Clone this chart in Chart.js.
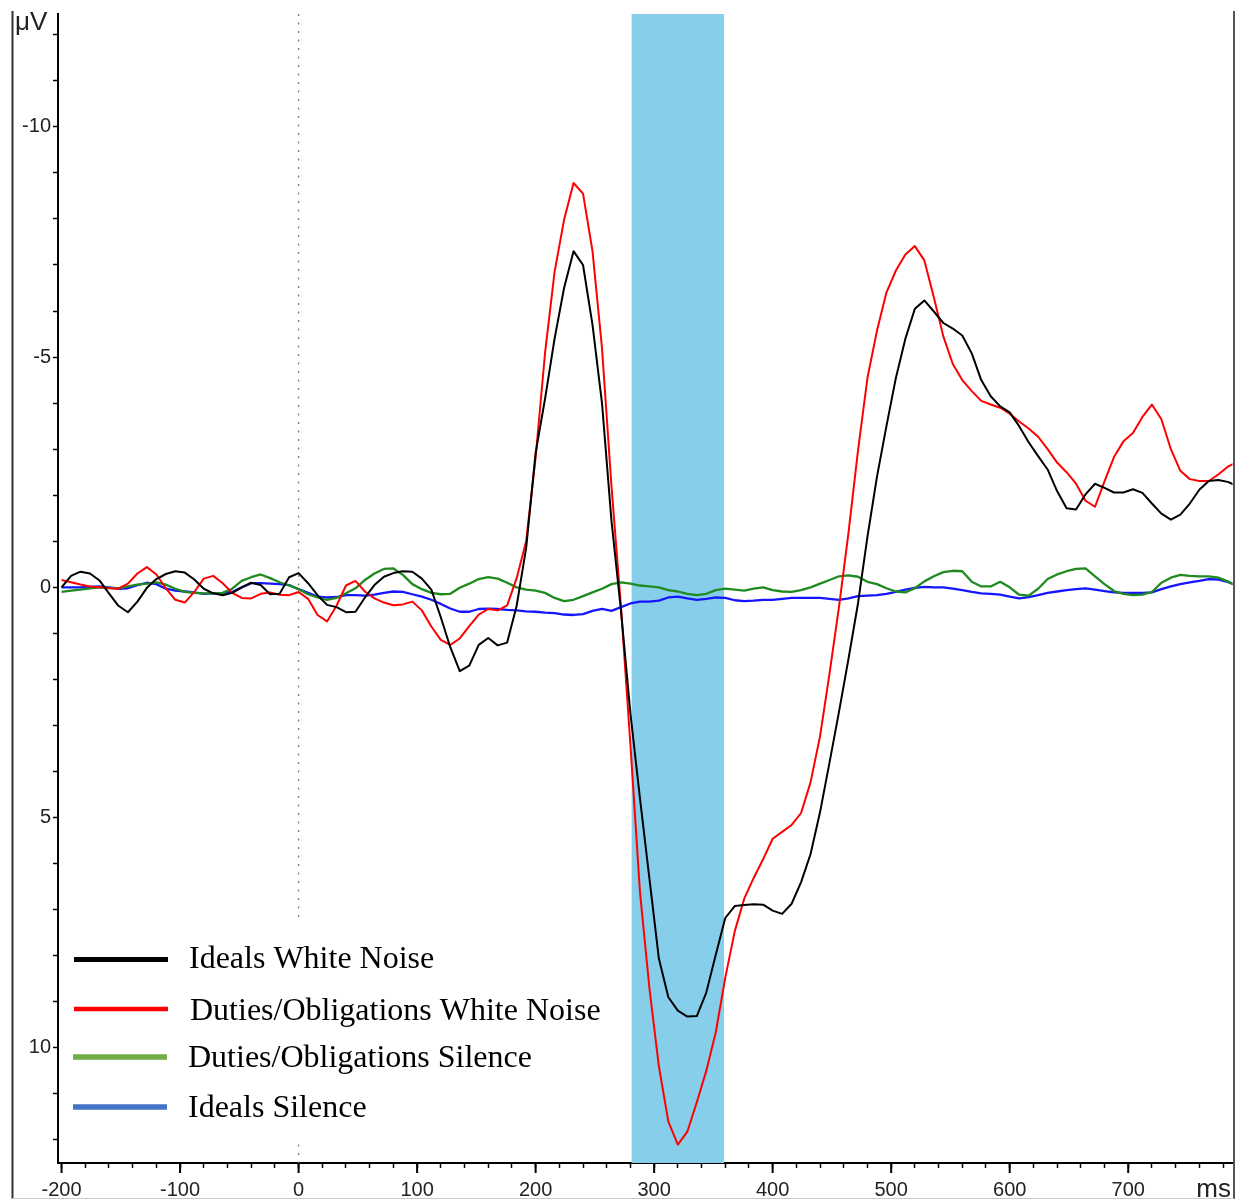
<!DOCTYPE html>
<html>
<head>
<meta charset="utf-8">
<title>ERP waveforms</title>
<script src="https://cdn.jsdelivr.net/npm/chart.js@4.4.1/dist/chart.umd.min.js"></script>
<style>
  html, body { margin: 0; padding: 0; background: #fff; }
  canvas { display: block; }
</style>
</head>
<body>
<canvas id="erp" width="1237" height="1200"></canvas>
<script>
// Sample times (ms) of the averaged epochs, one sample every 8 ms
const SAMPLE_START = -200, SAMPLE_STEP = 8, SAMPLE_COUNT = 125;
const timesMs = Array.from({ length: SAMPLE_COUNT }, (_, i) => SAMPLE_START + i * SAMPLE_STEP);

// Grand-average amplitudes in µV (negative plotted upward)
const idealsWhiteNoise = [
  0.0, -0.25, -0.34, -0.3, -0.15, 0.13, 0.4, 0.54, 0.31, 0.01,
  -0.18, -0.29, -0.35, -0.32, -0.17, 0.03, 0.13, 0.17, 0.12, 0.0,
  -0.1, -0.05, 0.15, 0.14, -0.22, -0.31, -0.09, 0.17, 0.38, 0.43,
  0.54, 0.53, 0.22, -0.05, -0.23, -0.31, -0.35, -0.34, -0.19, 0.05,
  0.65, 1.3, 1.82, 1.7, 1.25, 1.1, 1.26, 1.2, 0.4, -0.85,
  -2.92, -4.1, -5.4, -6.5, -7.3, -7.0, -5.7, -4.0, -1.45, 0.5,
  2.74, 4.57, 6.32, 8.06, 8.9, 9.19, 9.32, 9.31, 8.8, 7.98,
  7.18, 6.92, 6.9, 6.88, 6.89, 7.02, 7.09, 6.87, 6.4, 5.79,
  4.88, 3.8, 2.7, 1.55, 0.35, -1.1, -2.4, -3.5, -4.55, -5.4,
  -6.05, -6.23, -5.99, -5.74, -5.62, -5.47, -5.08, -4.5, -4.15, -3.93,
  -3.8, -3.5, -3.15, -2.85, -2.56, -2.09, -1.72, -1.69, -2.02, -2.25,
  -2.16, -2.06, -2.06, -2.13, -2.05, -1.82, -1.6, -1.47, -1.58, -1.82,
  -2.12, -2.31, -2.33, -2.29, -2.2
];
const dutiesWhiteNoise = [
  -0.16, -0.11, -0.06, -0.02, 0.0, 0.02, 0.03, -0.08, -0.3, -0.44,
  -0.28, 0.02, 0.27, 0.33, 0.1, -0.19, -0.25, -0.09, 0.12, 0.23,
  0.24, 0.14, 0.11, 0.16, 0.17, 0.1, 0.25, 0.6, 0.74, 0.4,
  -0.04, -0.14, 0.09, 0.24, 0.33, 0.39, 0.37, 0.31, 0.5, 0.85,
  1.14, 1.25, 1.11, 0.84, 0.59, 0.47, 0.5, 0.39, -0.2, -1.0,
  -2.82, -5.1, -6.85, -7.98, -8.78, -8.55, -7.3, -5.2, -2.2, 0.42,
  3.42, 6.6, 8.7, 10.4, 11.6, 12.1, 11.82, 11.18, 10.5, 9.66,
  8.48, 7.47, 6.76, 6.31, 5.9, 5.46, 5.31, 5.16, 4.9, 4.23,
  3.23, 1.87, 0.42, -1.19, -2.97, -4.55, -5.57, -6.4, -6.88, -7.23,
  -7.41, -7.1, -6.3, -5.45, -4.85, -4.5, -4.26, -4.05, -3.97, -3.9,
  -3.77, -3.6, -3.45, -3.27, -3.0, -2.71, -2.5, -2.25, -1.88, -1.75,
  -2.3, -2.83, -3.17, -3.35, -3.7, -3.97, -3.65, -3.0, -2.53, -2.35,
  -2.31, -2.31, -2.45, -2.62, -2.72
];
const dutiesSilence = [
  0.1, 0.07, 0.05, 0.02, 0.0, 0.01, 0.02, -0.02, -0.06, -0.08,
  -0.11, -0.06, 0.03, 0.1, 0.12, 0.13, 0.13, 0.12, 0.03, -0.14,
  -0.22, -0.28, -0.2, -0.11, -0.04, 0.04, 0.15, 0.22, 0.27, 0.23,
  0.13, 0.02, -0.16, -0.3, -0.4, -0.41, -0.27, -0.07, 0.04, 0.12,
  0.15, 0.14, 0.01, -0.08, -0.18, -0.22, -0.19, -0.1, 0.0, 0.05,
  0.07, 0.12, 0.23, 0.3, 0.27, 0.19, 0.11, 0.03, -0.07, -0.11,
  -0.08, -0.04, -0.02, 0.0, 0.06, 0.09, 0.14, 0.17, 0.14, 0.06,
  0.03, 0.05, 0.07, 0.03, 0.0, 0.06, 0.09, 0.1, 0.06, 0.0,
  -0.08, -0.16, -0.24, -0.26, -0.23, -0.12, -0.07, 0.02, 0.09, 0.11,
  0.02, -0.13, -0.24, -0.33, -0.36, -0.35, -0.12, -0.02, -0.02, -0.12,
  0.0, 0.16, 0.18, 0.03, -0.18, -0.28, -0.35, -0.4, -0.41, -0.24,
  -0.07, 0.08, 0.14, 0.17, 0.16, 0.1, -0.1, -0.21, -0.27, -0.25,
  -0.24, -0.24, -0.21, -0.13, -0.03
];
const idealsSilence = [
  0.0, 0.0, 0.0, -0.01, -0.02, 0.0, 0.03, 0.02, -0.05, -0.1,
  -0.07, 0.03, 0.07, 0.09, 0.11, 0.14, 0.13, 0.12, 0.1, 0.0,
  -0.09, -0.09, -0.08, -0.07, -0.05, 0.04, 0.12, 0.2, 0.22, 0.21,
  0.17, 0.17, 0.18, 0.16, 0.12, 0.09, 0.1, 0.15, 0.2, 0.27,
  0.36, 0.46, 0.53, 0.53, 0.47, 0.46, 0.47, 0.49, 0.5, 0.52,
  0.53, 0.55, 0.56, 0.59, 0.6, 0.58, 0.51, 0.47, 0.51, 0.43,
  0.35, 0.31, 0.31, 0.29, 0.22, 0.2, 0.24, 0.27, 0.25, 0.22,
  0.23, 0.28, 0.3, 0.29, 0.27, 0.27, 0.25, 0.23, 0.23, 0.23,
  0.23, 0.25, 0.27, 0.24, 0.19, 0.18, 0.17, 0.14, 0.1, 0.05,
  0.01, -0.01, 0.0, 0.0, 0.03, 0.06, 0.1, 0.13, 0.14, 0.16,
  0.2, 0.24, 0.21, 0.17, 0.12, 0.09, 0.06, 0.04, 0.02, 0.05,
  0.08, 0.11, 0.12, 0.12, 0.12, 0.11, 0.04, -0.02, -0.07, -0.11,
  -0.14, -0.18, -0.17, -0.12, -0.03
];

// Labels shown on the axes
const xLabelValues = [-200, -100, 0, 100, 200, 300, 400, 500, 600, 700];
const yLabelValues = [-10, -5, 0, 5, 10];

// Legend entries
const legendNames = [
  'Ideals White Noise',
  'Duties/Obligations White Noise',
  'Duties/Obligations Silence',
  'Ideals Silence'
];

// Analysis window (ms)
const windowStartMs = 281;
const windowEndMs = 359;

const X_MIN = -203, X_MAX = 788;
const Y_MIN = -12.45, Y_MAX = 12.5;

const toPoints = (vals) => vals.map((v, i) => ({ x: timesMs[i], y: v }));

const AXIS_FONT = "'Liberation Sans', Arial, sans-serif";
const LEGEND_FONT = "'Liberation Serif', 'Times New Roman', serif";

const decorations = {
  id: 'decorations',
  beforeDatasetsDraw(chart) {
    const { ctx, chartArea: a, scales: { x } } = chart;
    ctx.save();
    // shaded analysis window
    const x1 = x.getPixelForValue(windowStartMs);
    const x2 = x.getPixelForValue(windowEndMs);
    ctx.fillStyle = '#87CEEB';
    ctx.fillRect(x1, a.top, x2 - x1, a.bottom - a.top);
    // stimulus onset marker
    const x0 = x.getPixelForValue(0);
    ctx.strokeStyle = '#7a7a7a';
    ctx.lineWidth = 1.3;
    ctx.setLineDash([2, 6.5]);
    ctx.beginPath();
    ctx.moveTo(x0, a.top);
    ctx.lineTo(x0, a.bottom);
    ctx.stroke();
    ctx.restore();
  },
  afterDraw(chart) {
    const { ctx, chartArea: a, scales: { x } } = chart;
    ctx.save();
    // longer ticks at labelled times
    ctx.strokeStyle = '#000';
    ctx.lineWidth = 2;
    xLabelValues.forEach(v => {
      const px = x.getPixelForValue(v);
      ctx.beginPath();
      ctx.moveTo(px, a.bottom);
      ctx.lineTo(px, a.bottom + 10);
      ctx.stroke();
    });

    // unit labels
    ctx.fillStyle = '#222';
    ctx.font = `26px ${AXIS_FONT}`;
    ctx.textBaseline = 'alphabetic';
    ctx.textAlign = 'left';
    ctx.fillText('μV', 15, 30);
    ctx.font = `26px ${AXIS_FONT}`;
    ctx.textAlign = 'right';
    ctx.fillText('ms', 1231, 1197);

    // legend
    ctx.fillStyle = '#fff';
    ctx.fillRect(62, 922, 560, 220);
    const legendColors = ['#000000', '#ff0000', '#70AD47', '#4472C4'];
    const lineY = [959.5, 1009, 1057, 1107];
    const lineX = [[74, 168], [74, 168], [73, 167], [73, 167]];
    const lineW = [5, 4.5, 5.5, 5.5];
    const textY = [968, 1020, 1067, 1117];
    const textX = [189, 190, 188, 188];
    legendNames.forEach((name, i) => {
      ctx.strokeStyle = legendColors[i];
      ctx.lineWidth = lineW[i];
      ctx.beginPath();
      ctx.moveTo(lineX[i][0], lineY[i]);
      ctx.lineTo(lineX[i][1], lineY[i]);
      ctx.stroke();
      ctx.fillStyle = '#000';
      ctx.font = `32px ${LEGEND_FONT}`;
      ctx.textAlign = 'left';
      ctx.textBaseline = 'alphabetic';
      ctx.fillText(name, textX[i], textY[i]);
    });

    // frame
    ctx.lineWidth = 2;
    ctx.strokeStyle = '#333';
    ctx.beginPath();
    ctx.moveTo(12.5, 11);
    ctx.lineTo(12.5, 1199);
    ctx.stroke();
    ctx.strokeStyle = '#555';
    ctx.beginPath();
    ctx.moveTo(1234, 11);
    ctx.lineTo(1234, 1199);
    ctx.stroke();
    ctx.strokeStyle = '#c8c8c8';
    ctx.lineWidth = 1;
    ctx.beginPath();
    ctx.moveTo(12, 1198.5);
    ctx.lineTo(1234, 1198.5);
    ctx.stroke();
    ctx.restore();
  }
};

new Chart(document.getElementById('erp'), {
  type: 'line',
  data: {
    datasets: [
      { label: legendNames[0], data: toPoints(idealsWhiteNoise), borderColor: '#000000', borderWidth: 2 },
      { label: legendNames[1], data: toPoints(dutiesWhiteNoise), borderColor: '#ff0000', borderWidth: 2 },
      { label: legendNames[2], data: toPoints(dutiesSilence), borderColor: '#1f8a1f', borderWidth: 2.3 },
      { label: legendNames[3], data: toPoints(idealsSilence), borderColor: '#1515ff', borderWidth: 2.3 }
    ]
  },
  options: {
    responsive: false,
    animation: false,
    devicePixelRatio: 1,
    layout: { padding: { top: 11, right: 4.5, bottom: 0, left: 0 } },
    elements: {
      point: { radius: 0, hoverRadius: 0 },
      line: { tension: 0, fill: false, borderJoinStyle: 'round' }
    },
    plugins: { legend: { display: false }, tooltip: { enabled: false } },
    scales: {
      x: {
        type: 'linear',
        position: 'bottom',
        min: X_MIN,
        max: X_MAX,
        border: { display: true, color: '#000', width: 2 },
        grid: { drawOnChartArea: false, drawTicks: true, tickLength: 5, tickColor: '#000', tickWidth: 1.5 },
        ticks: {
          autoSkip: false,
          maxRotation: 0,
          padding: 10,
          color: '#222',
          font: { family: AXIS_FONT, size: 20 },
          callback: (v) => xLabelValues.includes(v) ? String(v) : ''
        },
        afterBuildTicks: (s) => {
          const t = [];
          for (let v = -200; v <= 780; v += 20) t.push({ value: v });
          s.ticks = t;
        },
        afterFit: (s) => { s.height = 37; }
      },
      y: {
        type: 'linear',
        reverse: true,
        min: Y_MIN,
        max: Y_MAX,
        border: { display: true, color: '#000', width: 2 },
        grid: { drawOnChartArea: false, drawTicks: true, tickLength: 5, tickColor: '#000', tickWidth: 1.5 },
        ticks: {
          autoSkip: false,
          padding: 2,
          color: '#222',
          font: { family: AXIS_FONT, size: 20 },
          callback: (v) => yLabelValues.includes(v) ? String(v) : ''
        },
        afterBuildTicks: (s) => {
          const t = [];
          for (let v = -12; v <= 12; v += 1) t.push({ value: v });
          s.ticks = t;
        },
        afterFit: (s) => { s.width = 58; }
      }
    }
  },
  plugins: [decorations]
});
</script>
</body>
</html>
